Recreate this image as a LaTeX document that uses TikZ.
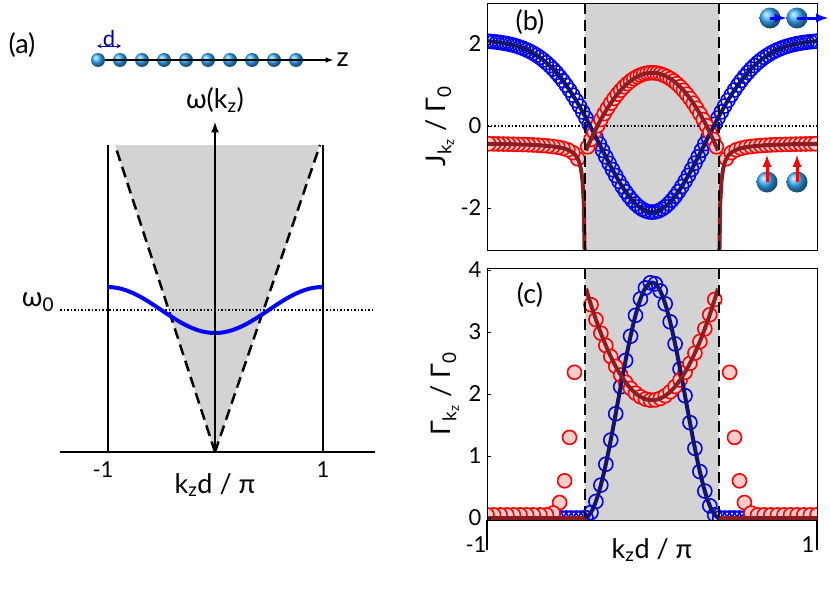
\documentclass[tikz,border=0pt]{standalone}
\usepackage{fontspec}
\setmainfont{Lato}
\usetikzlibrary{positioning, shadings}
\definecolor{darkred}{RGB}{140,30,35}
\definecolor{darkblue}{RGB}{20,20,110}
\definecolor{bandgray}{RGB}{211,211,211}
\newcommand{\bigtxt}{\fontsize{27}{30}\selectfont}
\newcommand{\ticktxt}{\fontsize{22}{26}\selectfont}
\begin{document}
\begin{tikzpicture}[x=1pt,y=-1pt,
	atom/.style={circle, shading=ball, ball color=blue!40!cyan!80!white, minimum size=14pt, inner sep=0},
	bigatom/.style={atom, minimum size=21pt},
	bluemark/.style={draw=blue, line width=1.6pt},
	redmark/.style={draw=red, line width=1.6pt, fill=red!20},
	band/.style={dashed, line width=2.5pt, dash pattern=on 11pt off 6pt},
	curve/.style={line width=4pt},
	every node/.style={font=\bigtxt}
	]
	\useasboundingbox (0,0) rectangle (830,589);

	% panel (a)
	\node (la) at (22,45) {(a)};
	\foreach \i in {0,...,9} {
		\node (at\i) at (98+22*\i,60) [atom] {};
	}
	\draw [-latex, line width=1.5pt] (at0) -- (333,60) coordinate (zend);
	\node (zlab) [right=0pt of zend] {z};
	\draw [<->, >=stealth, blue!60!black, line width=1pt] (97,46) -- (121,46) node [midway, above=-4pt, font=\ticktxt] (dlab) {d};

	\fill [bandgray] (215,452) -- (115,145) -- (320,145) -- cycle;
	\draw [band] (215,452) -- (115,145);
	\draw [band] (215,452) -- (320,145);
	\draw [line width=2pt] (108,145) -- (108,452);
	\draw [line width=2pt] (323,145) -- (323,452);
	\draw [dotted, line width=1.5pt] (60,310) -- (375,310);
	\node (w0) at (38,302) {ω\textsubscript{0}};
	\draw [curve, blue] plot [domain=-1:1, samples=60] ({215+107.5*\x}, {333-46*sin(90*\x)^2});
	\draw [-latex, line width=2.5pt] (215,452) -- (215,122);
	\node (wk) at (215,100) {ω(k\textsubscript{z})};
	\draw [line width=2.5pt] (60,452) -- (375,452);
	\node (ma) at (103,470) [font=\ticktxt] {-1};
	\node (pa) at (323,470) [font=\ticktxt] {1};
	\node (xa) at (215,485) {k\textsubscript{z}d / π};

	% panel (b)
	\begin{scope}
		\clip (487,3) rectangle (817,250);
		\fill [bandgray] (585,3) rectangle (719,250);
		\draw [dotted, line width=1.5pt] (487,126) -- (817,126);
		\foreach \k in {-1,-0.98,...,1.01} {
			\draw [bluemark] ({652+165*\k},{126-41*(2.1-4.2*exp(-(\k/0.45)^2))}) circle (7);
		}
		\foreach \k in {-0.39,-0.37,...,0.4} {
			\draw [redmark] ({652+165*\k},{126-41*(1.3-1.9*(\k/0.4)^2)}) circle (7);
		}
		\foreach \k in {0.45,0.48,...,1.01} {
			\draw [redmark] ({652+165*\k},{126-41*(-0.4-0.02/(\k-0.4))}) circle (7);
			\draw [redmark] ({652-165*\k},{126-41*(-0.4-0.02/(\k-0.4))}) circle (7);
		}
		\draw [curve, darkblue] plot [domain=-1:1, samples=80] ({652+165*\x},{126-41*(2.1-4.2*exp(-(\x/0.45)^2))});
		\draw [curve, darkred] plot [domain=-0.4:0.4, samples=40] ({652+165*\x},{126-41*(1.3-1.9*(\x/0.4)^2)});
		\draw [curve, darkred] plot [domain=0.406:1, samples=80] ({652+165*\x},{126-41*(-0.4-0.02/(\x-0.4))});
		\draw [curve, darkred] plot [domain=0.406:1, samples=80] ({652-165*\x},{126-41*(-0.4-0.02/(\x-0.4))});
		\draw [band] (585,3) -- (585,250);
		\draw [band] (719,3) -- (719,250);
	\end{scope}
	\draw [line width=1pt] (487,3) rectangle (817,250);
	\foreach \v/\y in {2/44,0/126,-2/208} {
		\draw (487,\y) -- (491,\y);
		\node [left, font=\ticktxt] at (485,\y) {\v};
	}
	\node (lb) at (530,22) {(b)};
	\node (jlab) at (440,126) [rotate=90] {J\textsubscript{k\textsubscript{z}} / Γ\textsubscript{0}};
	\node (bb1) at (770,18) [bigatom] {};
	\node (bb2) at (797,18) [bigatom] {};
	\draw [-latex, line width=3pt, blue] (bb1.center) -- (bb2.west);
	\draw [-latex, line width=3pt, blue] (bb2.center) -- (828,18);
	\node (br1) at (767,182) [bigatom] {};
	\node (br2) at (797,182) [bigatom] {};
	\draw [-latex, line width=3pt, red] (br1.center) -- ++(0,-27);
	\draw [-latex, line width=3pt, red] (br2.center) -- ++(0,-27);

	% panel (c)
	\begin{scope}
		\clip (487,268) rectangle (817,520);
		\fill [bandgray] (585,268) rectangle (719,520);
		\foreach \k in {-1,-0.97,...,1.01} {
			\pgfmathsetmacro\g{abs(\k)<0.41 ? 3.8*cos(deg(pi*\k/0.82))^2 : 0}
			\draw [bluemark] ({652+165*\k},{518-62*\g}) circle (7);
		}
		\foreach \k in {-0.37,-0.34,...,0.38} {
			\draw [redmark] ({652+165*\k},{518-62*(1.9+1.8*(\k/0.4)^2)}) circle (7);
		}
		\foreach \k/\g in {0.47/2.35,0.5/1.3,0.53/0.6,0.56/0.25,0.6/0.08,0.64/0.05,0.68/0.05,0.72/0.05,0.76/0.05,0.8/0.05,0.84/0.05,0.88/0.05,0.92/0.05,0.96/0.05,1.0/0.05} {
			\draw [redmark] ({652+165*\k},{518-62*\g}) circle (7);
			\draw [redmark] ({652-165*\k},{518-62*\g}) circle (7);
		}
		\draw [curve, darkblue] plot [domain=-0.41:0.41, samples=60] ({652+165*\x},{518-62*3.8*cos(deg(pi*\x/0.82))^2});
		\draw [curve, darkblue] (487,518) -- (584,518) (720,518) -- (817,518);
		\draw [curve, darkred] plot [domain=-0.4:0.4, samples=40] ({652+165*\x},{518-62*(1.9+1.8*(\x/0.4)^2)});
		\draw [curve, darkred] (487,518) -- (585,518) (719,518) -- (817,518);
		\draw [band] (585,268) -- (585,520);
		\draw [band] (719,268) -- (719,520);
	\end{scope}
	\draw [line width=1pt] (487,268) rectangle (817,520);
	\foreach \v in {0,...,4} {
		\draw (487,518-62*\v) -- (491,518-62*\v);
		\node [left, font=\ticktxt] at (485,518-62*\v) {\v};
	}
	\draw [line width=2pt] (487,520) -- (487,550);
	\draw [line width=2pt] (817,520) -- (817,550);
	\node (mc) at (476,545) [font=\ticktxt] {-1};
	\node (pc) at (808,545) [font=\ticktxt] {1};
	\node (lc) at (530,295) {(c)};
	\node (xc) at (652,550) {k\textsubscript{z}d / π};
	\node (glab) at (445,394) [rotate=90] {Γ\textsubscript{k\textsubscript{z}} / Γ\textsubscript{0}};
\end{tikzpicture}
\end{document}
